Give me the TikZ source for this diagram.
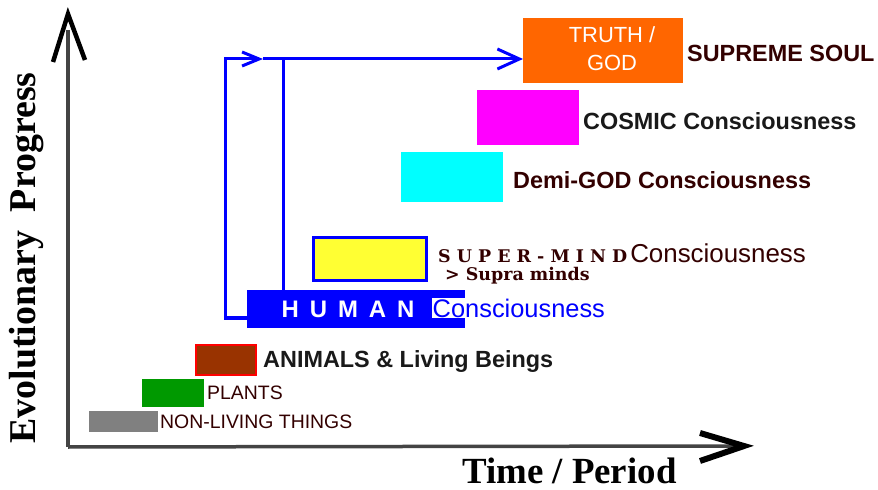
\documentclass[tikz,border=0pt]{standalone}
\usepackage{fontspec}
\setmainfont{Liberation Serif}
\setsansfont{Liberation Sans}
\newfontfamily\slabfont{DejaVu Serif}
\usetikzlibrary{arrows.meta}
\definecolor{maroonT}{HTML}{330000}
\definecolor{orangeB}{HTML}{FF6600}
\definecolor{magentaB}{HTML}{FF00FF}
\definecolor{cyanB}{HTML}{00FFFF}
\definecolor{yellowB}{HTML}{FFFF33}
\definecolor{blueB}{HTML}{0000FF}
\definecolor{brownB}{HTML}{993300}
\definecolor{greenB}{HTML}{009900}
\definecolor{grayB}{HTML}{808080}
\definecolor{axisC}{HTML}{444444}
\begin{document}
\begin{tikzpicture}[x=1bp,y=-1bp,
  box/.style={inner sep=0pt, outer sep=0pt},
  lbl/.style={anchor=west, inner sep=0pt, font=\sffamily\bfseries\fontsize{23.5}{26}\selectfont},
  axisline/.style={draw=axisC, line width=3.5bp},
  axishead/.style={draw=black, line width=4.5bp, line join=miter, line cap=butt},
  bluecon/.style={draw=blueB, line width=3bp},
  bigtip/.style={-{Straight Barb[length=22bp,width=20bp]}},
  smalltip/.style={-{Straight Barb[length=17bp,width=14bp]}}
]
\useasboundingbox (0,0) rectangle (878,490);
\fill[white] (0,0) rectangle (878,490);

% axes
\coordinate (origin) at (68,447);
\coordinate (ytip) at (68,14);
\coordinate (xtip) at (744,446);
\draw[axisline] (origin) -- (68,30);
\draw[axisline] (origin) -- (735,446);
\draw[axishead] (53,62) -- (ytip) -- (85,60);
\draw[axishead, line width=6bp] (700,433) -- (xtip) -- (700,461);

\node[font=\bfseries\fontsize{38}{40}\selectfont, rotate=90, inner sep=0pt] (ylab) at (27,258) {Evolutionary\ \ Progress};
\node[font=\bfseries\fontsize{37}{40}\selectfont, inner sep=0pt, anchor=base west] (xlab) at (462,483) {Time / Period};

% boxes
\node[box, fill=orangeB, minimum width=160bp, minimum height=65bp] (truth) at (603,50.5) {};
\node[box, fill=magentaB, minimum width=102bp, minimum height=55bp] (cosmic) at (528,117.5) {};
\node[box, fill=cyanB, minimum width=102bp, minimum height=50bp] (demi) at (452,177) {};
\node[box, fill=yellowB, draw=blueB, line width=3bp, minimum width=113bp, minimum height=43bp] (supermind) at (370,259) {};
\node[box, fill=blueB, minimum width=218bp, minimum height=38bp] (human) at (356,309) {};
\node[box, fill=brownB, draw=red, line width=1.5bp, minimum width=60bp, minimum height=30bp] (animals) at (226,360) {};
\node[box, fill=greenB, minimum width=62bp, minimum height=28bp] (plants) at (173,393) {};
\node[box, fill=grayB, minimum width=69bp, minimum height=21bp] (nonliving) at (123.5,421.5) {};

% texts inside boxes
\node[inner sep=0pt, align=center, text=white, font=\sffamily\fontsize{22}{28}\selectfont] (truthtxt) at (612,49) {TRUTH /\\GOD};
\node[inner sep=0pt, text=white, font=\sffamily\bfseries\fontsize{24}{26}\selectfont] (humantxt) at (348,309) {H\hspace{11bp}U\hspace{11bp}M\hspace{11bp}A\hspace{11bp}N};

% labels
\node[lbl, text=maroonT] (supreme) at (687,53) {SUPREME SOUL};
\node[lbl, text=black!90] (cosmictxt) at (583,121) {COSMIC Consciousness};
\node[lbl, text=maroonT] (demitxt) at (513,180) {Demi-GOD Consciousness};
\node[anchor=base west, inner sep=0pt, text=maroonT] (smtxt) at (438,263)
  {{\slabfont\bfseries\fontsize{17.5}{20}\selectfont S U P E R - M I N D}\hspace{3bp}{\sffamily\fontsize{26}{28}\selectfont Consciousness}};
\node[anchor=base west, inner sep=0pt, text=maroonT, font=\slabfont\bfseries\fontsize{17.5}{20}\selectfont] (supra) at (445,281) {> Supra minds};
\node[anchor=west, inner sep=0.5bp, fill=white, text=blueB, font=\sffamily\fontsize{25.5}{27}\selectfont] (humancons) at (432,308) {Consciousness};
\node[lbl, text=black!90] (animtxt) at (263,361) {ANIMALS \& Living Beings};
\node[anchor=west, inner sep=0pt, text=maroonT, font=\sffamily\fontsize{19.5}{22}\selectfont] (planttxt) at (207,393) {PLANTS};
\node[anchor=west, inner sep=0pt, text=maroonT, font=\sffamily\fontsize{19.5}{22}\selectfont] (nontxt) at (160,422) {NON-LIVING THINGS};

% connectors
\coordinate (turnB) at (225,318);
\coordinate (turnT) at (225,59);
\coordinate (mid) at (263,59);
\coordinate (branch) at (283,59);
\draw[bluecon, line join=miter, smalltip] (human.west |- turnB) -- (turnB) -- (turnT) -- (mid);
\draw[bluecon, bigtip] (mid) -- (truth.west |- turnT);
\draw[bluecon] (branch) -- (branch |- human.north);
\end{tikzpicture}
\end{document}
